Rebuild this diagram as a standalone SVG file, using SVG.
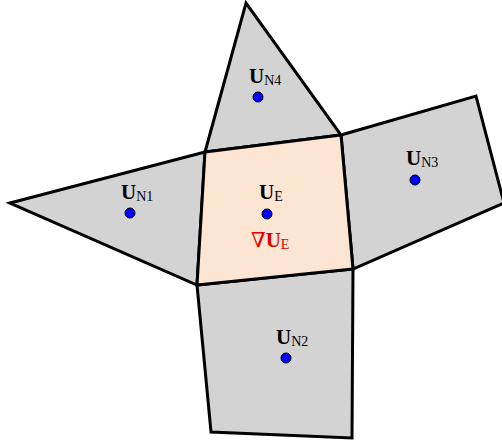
<svg xmlns="http://www.w3.org/2000/svg" width="502" height="443" viewBox="0 0 502 443">
<style>
.cell{fill:#d3d3d3;stroke:#000;stroke-width:3;stroke-linejoin:miter}
.ce{fill:#fde5d3}
.pt{fill:#0000ff;stroke:#000;stroke-width:1}
.lb{font-family:"Liberation Serif","DejaVu Serif",serif;font-size:21px;fill:#000}
.b{font-weight:bold}
.s{font-size:14px}
.red{fill:#e00000}
</style>
<rect width="502" height="443" fill="#fff"/>
<g id="cellN4"><polygon class="cell" points="205,152 246,3 341,135"/></g>
<g id="cellN3"><polygon class="cell" points="341,135 476,96 504,203 353,269"/></g>
<g id="cellN1"><polygon class="cell" points="10,203 205,152 197,285"/></g>
<g id="cellN2"><polygon class="cell" points="197,285 353,269 352,438 211,432"/></g>
<g id="cellE"><polygon class="cell ce" points="205,152 341,135 353,269 197,285"/></g>
<g id="nodeN4"><circle class="pt" cx="258" cy="97" r="5"/><text class="lb" x="249" y="83"><tspan class="b">U</tspan><tspan class="s" dy="2">N4</tspan></text></g>
<g id="nodeE"><circle class="pt" cx="267" cy="214" r="5"/><text class="lb" x="259" y="199"><tspan class="b">U</tspan><tspan class="s" dy="2">E</tspan></text><text class="lb red" x="251" y="247">∇<tspan class="b">U</tspan><tspan class="s" dy="2">E</tspan></text></g>
<g id="nodeN1"><circle class="pt" cx="130" cy="213" r="5"/><text class="lb" x="121" y="199"><tspan class="b">U</tspan><tspan class="s" dy="2">N1</tspan></text></g>
<g id="nodeN3"><circle class="pt" cx="415" cy="180" r="5"/><text class="lb" x="406" y="165"><tspan class="b">U</tspan><tspan class="s" dy="2">N3</tspan></text></g>
<g id="nodeN2"><circle class="pt" cx="286" cy="358" r="5"/><text class="lb" x="276" y="344"><tspan class="b">U</tspan><tspan class="s" dy="2">N2</tspan></text></g>
<g id="connectors"></g>
</svg>
